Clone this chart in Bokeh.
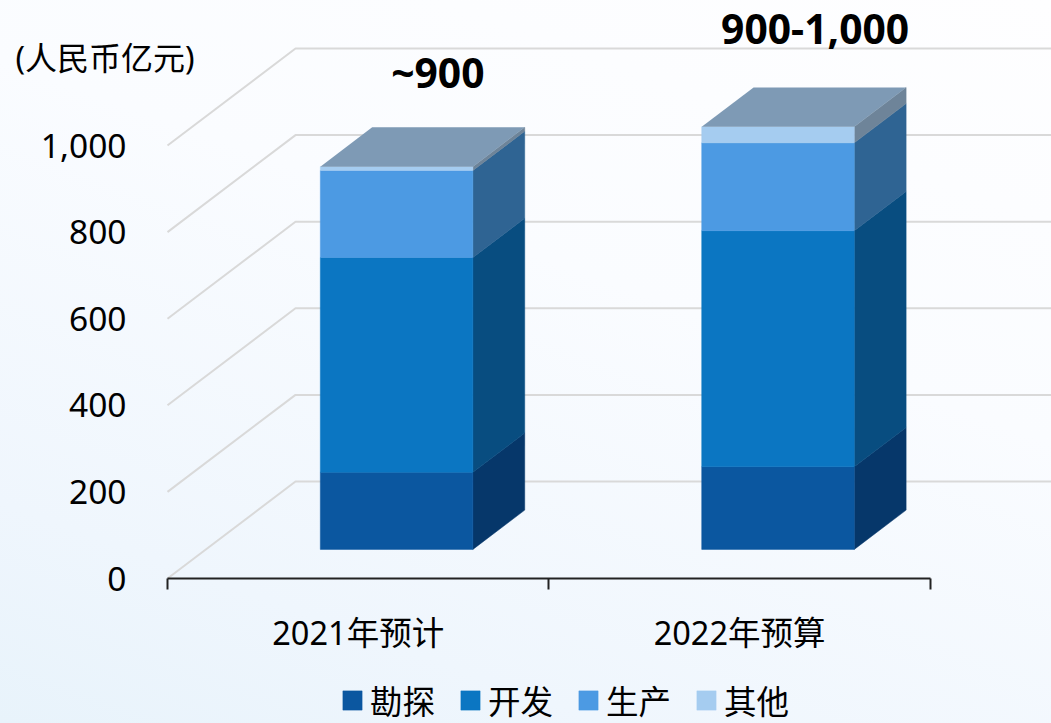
from bokeh.plotting import figure
from bokeh.embed import file_html
from bokeh.resources import INLINE
from bokeh.core.properties import value
from bokeh.models import (FixedTicker, Range1d, Label, Legend, LegendItem, NumeralTickFormatter)

categories = ["2021年预计", "2022年预算"]
series = ["勘探", "开发", "生产", "其他"]
exploration = [178, 191]
development = [496, 545]
production = [201, 203]
other = [9, 37]
totals_text = ["~900", "900-1,000"]
label_levels = [900, 1000]
y_ticks = [0, 200, 400, 600, 800, 1000]
front_colors = ["#0b57a0", "#0b76c2", "#4c9ae3", "#a5ccf0"]
side_colors = ["#06376a", "#084d80", "#2f6493", "#6e8499"]
top_color = "#7e9ab5"
grid_color = "#d9d9d9"
FONT = "'Noto Sans', 'Noto Sans CJK SC'"

W, H = 1051, 723
LEFT, BASE = 167, 578
PX_PER_CAT = 381.4
PX_PER_UNIT = 0.433
DX = 128 / PX_PER_CAT       # horizontal shift of the full chart depth
DY = 97 / PX_PER_UNIT       # vertical shift of the full chart depth
BAR_W = 0.4
D0, D1 = 0.3, 0.705

p = figure(width=W, height=H, output_backend="svg", toolbar_location=None,
           x_range=Range1d(-LEFT / PX_PER_CAT, (W - LEFT) / PX_PER_CAT),
           y_range=Range1d(-(H - BASE) / PX_PER_UNIT, BASE / PX_PER_UNIT),
           min_border=0, background_fill_alpha=0, border_fill_alpha=0)
p.styles = {"background": "linear-gradient(200deg, #fefeff 0%, #fafcff 40%, #eff6fd 80%, #e8f3fb 100%)"}
p.outline_line_color = None
p.grid.visible = False

# walls: diagonal and back gridlines
for v in y_ticks:
    p.line([0, DX, 2 + DX], [v, v + DY, v + DY], line_color=grid_color, line_width=2)

# bars
levels = [exploration, development, production, other]
items = []
bottoms = [0.0, 0.0]
for s, name in enumerate(series):
    vals = levels[s]
    lefts = [i + 0.5 - BAR_W / 2 + D0 * DX for i in range(2)]
    rights = [l + BAR_W for l in lefts]
    bot = [bottoms[i] + D0 * DY for i in range(2)]
    top = [bot[i] + vals[i] for i in range(2)]
    xs = [[rights[i], rights[i] + (D1 - D0) * DX, rights[i] + (D1 - D0) * DX, rights[i]] for i in range(2)]
    ys = [[bot[i], bot[i] + (D1 - D0) * DY, top[i] + (D1 - D0) * DY, top[i]] for i in range(2)]
    p.patches(xs, ys, fill_color=side_colors[s], line_color=side_colors[s], line_width=0.5)
    r = p.quad(left=lefts, right=rights, bottom=bot, top=top, fill_color=front_colors[s],
               line_color=front_colors[s], line_width=0.5)
    items.append(LegendItem(label=name, renderers=[r]))
    bottoms = [bottoms[i] + vals[i] for i in range(2)]

# top faces
tl = [i + 0.5 - BAR_W / 2 + D0 * DX for i in range(2)]
txs = [[l, l + BAR_W, l + BAR_W + (D1 - D0) * DX, l + (D1 - D0) * DX] for l in tl]
tys = [[b + D0 * DY, b + D0 * DY, b + D1 * DY, b + D1 * DY] for b in bottoms]
p.patches(txs, tys, fill_color=top_color, line_color=None)

# total labels
p.text(x=[0.7087, 1.698], y=[v + 269 for v in label_levels], text=totals_text,
       text_font=value(FONT), text_font_style="bold", text_font_size="40.8px",
       text_color="#000000", text_align="center", text_baseline="middle")

# axes
xa = p.xaxis[0]
xa.fixed_location = 0
xa.ticker = FixedTicker(ticks=[0.5, 1.5], minor_ticks=[0, 1, 2])
xa.major_label_overrides = {0.5: categories[0], 1.5: categories[1]}
xa.major_tick_line_color = None
xa.minor_tick_out = 11
xa.minor_tick_in = 0
xa.minor_tick_line_color = "#222222"
xa.minor_tick_line_width = 2
xa.axis_line_color = "#222222"
xa.axis_line_width = 2
xa.bounds = (0, 2)
xa.major_label_text_font = FONT
xa.major_label_text_font_size = "32.5px"
xa.major_label_text_color = "#000000"
xa.major_label_standoff = 20

ya = p.yaxis[0]
ya.fixed_location = 0
ya.ticker = FixedTicker(ticks=y_ticks)
ya.formatter = NumeralTickFormatter(format="0,0")
ya.axis_line_color = None
ya.major_tick_line_color = None
ya.minor_tick_line_color = None
ya.major_label_text_font = FONT
ya.major_label_text_font_size = "33.5px"
ya.major_label_text_color = "#000000"
ya.major_label_standoff = 35

p.add_layout(Label(x=(15 - LEFT) / PX_PER_CAT, y=(BASE - 57) / PX_PER_UNIT,
                   text="(人民币亿元)", text_font=FONT, text_font_size="32px",
                   text_color="#000000", text_baseline="middle", text_align="left"))

legend = Legend(items=items, orientation="horizontal", location=(340, -1),
                background_fill_alpha=0, border_line_color=None, padding=0, margin=0,
                spacing=23, glyph_width=24, glyph_height=24, label_standoff=6,
                label_text_font=FONT, label_text_font_size="32.5px", label_text_line_height=0.9,
                label_text_color="#000000", label_height=24)
p.add_layout(legend)

open("out.html", "w").write(file_html(p, INLINE))
